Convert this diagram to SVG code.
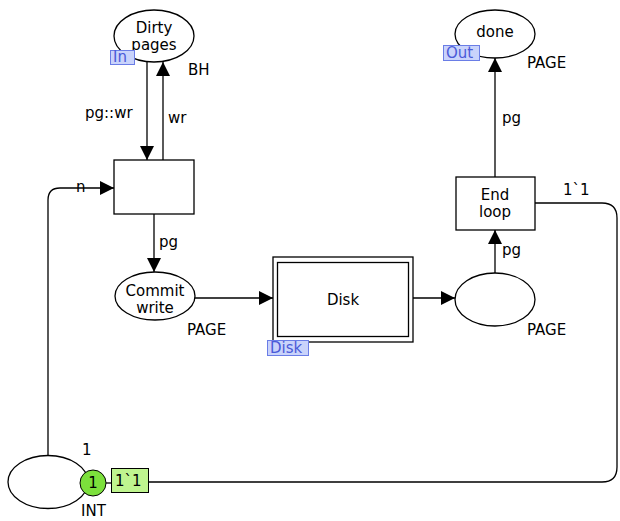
<svg xmlns="http://www.w3.org/2000/svg" width="620" height="521" viewBox="0 0 620 521">
  <style>
    text { font-family: "DejaVu Sans", Verdana, sans-serif; font-size: 15px; fill: #000; }
    .c { text-anchor: middle; }
    .node { fill: #fff; stroke: #000; stroke-width: 1.3; }
    .arc { fill: none; stroke: #000; stroke-width: 1.3; }
    .tag { fill: #c9d3fb; stroke: #6a7de6; stroke-width: 1; }
    .tagt { fill: #4a5ad8; }
    .tok { fill: #7ce03c; stroke: #000; stroke-width: 1; }
    .mark { fill: #bff58f; stroke: #000; stroke-width: 1; }
  </style>
  <defs>
    <marker id="ah" viewBox="0 0 14 14" refX="14" refY="7" markerWidth="14" markerHeight="14" markerUnits="userSpaceOnUse" orient="auto">
      <path d="M0,0 L14,7 L0,14 Z" fill="#000"/>
    </marker>
  </defs>

  <g id="connectors">
    <!-- Dirty pages -> transition -->
    <path class="arc" d="M147,62 L147,160" marker-end="url(#ah)"/>
    <!-- transition -> Dirty pages -->
    <path class="arc" d="M163,160 L163,62" marker-end="url(#ah)"/>
    <!-- counter place -> transition -->
    <path class="arc" d="M48,456 L48,200 Q48,188 60,188 L114,188" marker-end="url(#ah)"/>
    <!-- transition -> Commit write -->
    <path class="arc" d="M154,214 L154,272" marker-end="url(#ah)"/>
    <!-- Commit write -> Disk -->
    <path class="arc" d="M195,298 L273,298" marker-end="url(#ah)"/>
    <!-- Disk -> place -->
    <path class="arc" d="M413,298 L455,298" marker-end="url(#ah)"/>
    <!-- place -> End loop -->
    <path class="arc" d="M495,273 L495,230" marker-end="url(#ah)"/>
    <!-- End loop -> done -->
    <path class="arc" d="M495,177 L495,58" marker-end="url(#ah)"/>
    <!-- End loop -> counter place -->
    <path class="arc" d="M535,203 L602,203 Q617,203 617,218 L617,467 Q617,482 602,482 L148,482"/>
  </g>

  <g id="dirty-pages">
    <ellipse class="node" cx="154" cy="36" rx="40" ry="26"/>
    <text class="c" x="154" y="33">Dirty</text>
    <text class="c" x="154" y="50">pages</text>
    <rect class="tag" x="110.5" y="50.5" width="24" height="14"/>
    <text class="tagt" x="113" y="62">In</text>
    <text x="188" y="75">BH</text>
  </g>

  <g id="done">
    <ellipse class="node" cx="495" cy="34" rx="40" ry="24"/>
    <text class="c" x="495" y="37">done</text>
    <rect class="tag" x="443.5" y="45.5" width="36" height="15"/>
    <text class="tagt" x="446" y="58">Out</text>
    <text x="527" y="68">PAGE</text>
  </g>

  <g id="write-transition">
    <rect class="node" x="114" y="160" width="80" height="54"/>
  </g>

  <g id="commit-write">
    <ellipse class="node" cx="155" cy="296" rx="40" ry="24"/>
    <text class="c" x="155" y="296">Commit</text>
    <text class="c" x="155" y="313">write</text>
    <text x="187" y="335">PAGE</text>
  </g>

  <g id="disk">
    <rect class="node" x="273" y="257" width="140" height="85"/>
    <rect class="node" x="277.5" y="262.5" width="131" height="74"/>
    <text class="c" x="343" y="305">Disk</text>
    <rect class="tag" x="267.5" y="340.5" width="41" height="15"/>
    <text class="tagt" x="270" y="353">Disk</text>
  </g>

  <g id="disk-out">
    <ellipse class="node" cx="495" cy="299.5" rx="40" ry="26.5"/>
    <text x="527" y="335">PAGE</text>
  </g>

  <g id="end-loop">
    <rect class="node" x="456" y="177" width="79" height="53"/>
    <text class="c" x="495" y="200">End</text>
    <text class="c" x="495" y="217">loop</text>
  </g>

  <g id="counter">
    <ellipse class="node" cx="48" cy="482" rx="40" ry="26.5"/>
    <text x="82" y="455">1</text>
    <text x="81" y="516">INT</text>
    <line class="arc" x1="106" y1="483" x2="111" y2="483"/>
    <circle class="tok" cx="93" cy="483" r="13"/>
    <text class="c" x="93" y="488">1</text>
    <rect class="mark" x="111.5" y="468.5" width="37" height="24"/>
    <text x="115" y="486">1`1</text>
  </g>

  <!-- arc inscriptions -->
  <g id="labels">
    <text x="85" y="118">pg::wr</text>
    <text x="168" y="123">wr</text>
    <text x="76" y="192">n</text>
    <text x="159" y="247">pg</text>
    <text x="502" y="255">pg</text>
    <text x="502" y="123">pg</text>
    <text x="563" y="195">1`1</text>
  </g>
</svg>
